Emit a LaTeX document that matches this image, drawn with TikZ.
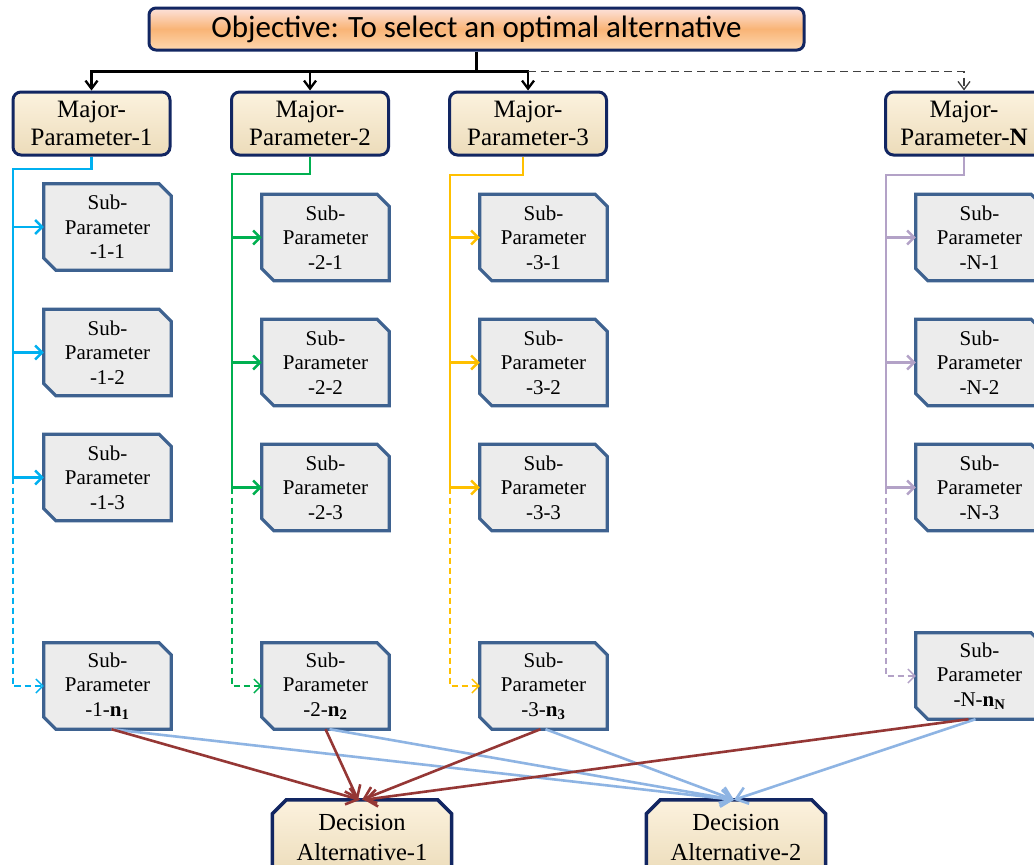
\documentclass[tikz,border=0pt]{standalone}
\usepackage{fontspec}
\setmainfont{Liberation Serif}
\newfontfamily\calib{Carlito}
\usetikzlibrary{arrows.meta,backgrounds}
\definecolor{navy}{RGB}{18,38,98}
\definecolor{subb}{RGB}{62,98,144}
\definecolor{subfill}{RGB}{236,236,236}
\definecolor{majtop}{RGB}{252,242,222}
\definecolor{majbot}{RGB}{236,220,186}
\definecolor{objtop}{RGB}{253,226,220}
\definecolor{objmid}{RGB}{249,180,118}
\definecolor{objbot}{RGB}{253,216,176}
\definecolor{cyl}{RGB}{0,176,240}
\definecolor{grl}{RGB}{0,176,80}
\definecolor{yel}{RGB}{255,192,0}
\definecolor{lav}{RGB}{179,162,199}
\definecolor{redl}{RGB}{149,55,53}
\definecolor{bluel}{RGB}{142,180,227}
\tikzset{
  objbox/.style={draw=navy, line width=3pt, rounded corners=7pt, top color=objtop, bottom color=objbot, middle color=objmid,
    minimum width=655pt, minimum height=42pt, inner sep=0pt, font=\calib\fontsize{31}{36}\selectfont},
  major/.style={draw=navy, line width=3pt, rounded corners=8pt, top color=majtop, bottom color=majbot,
    minimum width=157pt, minimum height=63pt, inner sep=0pt, align=center, font=\fontsize{25}{28.5}\selectfont},
  sub/.style={minimum width=127pt, minimum height=86pt, inner sep=0pt, align=center, font=\fontsize{21}{24.5}\selectfont},
  subshape/.style={draw=subb, line width=3.2pt, fill=subfill},
  dec/.style={minimum width=179pt, minimum height=75pt, inner sep=0pt, align=center, font=\fontsize{24.5}{29.5}\selectfont},
  decshape/.style={draw=navy, line width=3.5pt, top color=majtop, bottom color=majbot},
  blk/.style={line width=2.3pt, black, -{Straight Barb[length=8pt,width=12pt]}},
  blkd/.style={line width=1.3pt, black!75, dash pattern=on 8pt off 5pt, -{Straight Barb[length=8pt,width=12pt]}},
  conn/.style={line width=2.4pt},
  tip/.style={-{Straight Barb[length=7pt,width=14pt]}},
  dsh/.style={line width=1.4pt, dash pattern=on 6pt off 4pt, -{Straight Barb[length=7pt,width=14pt]}},
  bot/.style={line width=2.6pt, -{Straight Barb[length=11pt,width=17pt]}}
}
\begin{document}
\begin{tikzpicture}[x=1pt,y=-1pt]
\useasboundingbox (0,0) rectangle (1034,865);
% objective and majors
\node[objbox] (obj) at (476.5,29) {Objective: To select an optimal alternative};
\node[major] (m1) at (91.5,123.5) {Major-\\Parameter-1};
\node[major] (m2) at (310,123.5) {Major-\\Parameter-2};
\node[major] (m3) at (528,123.5) {Major-\\Parameter-3};
\node[major] (mN) at (964,123.5) {Major-\\Parameter-\textbf{N}};
% sub parameters
\node[sub] (s11) at (107.5,227) {Sub-\\Parameter\\-1-1};
\node[sub] (s12) at (107.5,352.5) {Sub-\\Parameter\\-1-2};
\node[sub] (s13) at (107.5,477.5) {Sub-\\Parameter\\-1-3};
\node[sub] (s1n) at (107.5,686) {Sub-\\Parameter\\-1-\textbf{n}\textsubscript{\textbf{1}}};
\node[sub] (s21) at (325.5,237.5) {Sub-\\Parameter\\-2-1};
\node[sub] (s22) at (325.5,362.5) {Sub-\\Parameter\\-2-2};
\node[sub] (s23) at (325.5,487.5) {Sub-\\Parameter\\-2-3};
\node[sub] (s2n) at (325.5,686) {Sub-\\Parameter\\-2-\textbf{n}\textsubscript{\textbf{2}}};
\node[sub] (s31) at (543.5,237.5) {Sub-\\Parameter\\-3-1};
\node[sub] (s32) at (543.5,362.5) {Sub-\\Parameter\\-3-2};
\node[sub] (s33) at (543.5,487.5) {Sub-\\Parameter\\-3-3};
\node[sub] (s3n) at (543.5,686) {Sub-\\Parameter\\-3-\textbf{n}\textsubscript{\textbf{3}}};
\node[sub] (sN1) at (979.5,237.5) {Sub-\\Parameter\\-N-1};
\node[sub] (sN2) at (979.5,362.5) {Sub-\\Parameter\\-N-2};
\node[sub] (sN3) at (979.5,487.5) {Sub-\\Parameter\\-N-3};
\node[sub] (sNn) at (979.5,676) {Sub-\\Parameter\\-N-\textbf{n}\textsubscript{\textbf{N}}};
% decisions
\node[dec] (d1) at (362,837.5) {Decision\\Alternative-1};
\node[dec] (d2) at (736,837.5) {Decision\\Alternative-2};
% shapes on background
\begin{pgfonlayer}{background}
\fill[white] (0,0) rectangle (1034,865);
\foreach \n in {s11,s12,s13,s1n,s21,s22,s23,s2n,s31,s32,s33,s3n,sN1,sN2,sN3,sNn}{
  \path[subshape] (\n.north west) -- ([xshift=-12pt]\n.north east) -- ([yshift=-12pt]\n.north east)
    -- (\n.south east) -- ([xshift=12pt]\n.south west) -- ([yshift=12pt]\n.south west) -- cycle;
}
\foreach \n in {d1,d2}{
  \path[decshape] (\n.south west) -- ([yshift=-14pt]\n.north west) -- ([xshift=14pt]\n.north west)
    -- ([xshift=-14pt]\n.north east) -- ([yshift=-14pt]\n.north east) -- (\n.south east) -- cycle;
}
\end{pgfonlayer}
% top connectors
\draw[line width=2.3pt] (obj.south) -- ++(0,20) coordinate (hj);
\draw[blk] (hj) -| (m1.north);
\draw[blk] (hj) -| (m2.north);
\draw[blk] (hj) -| (m3.north);
\draw[blkd] (hj -| m3.north) -| (mN.north);
% bus coordinates
\coordinate (b1) at (13,169);
\coordinate (b2) at (232,174);
\coordinate (b3) at (450,175);
\coordinate (bN) at (886,175);
% column 1
\draw[conn,cyl] (m1.south) |- (b1) -- (b1 |- s13);
\foreach \s in {s11,s12,s13} \draw[conn,cyl,tip] (b1 |- \s) -- (\s.west);
\draw[dsh,cyl] (b1 |- s13) |- (s1n.west);
% column 2
\draw[conn,grl] (m2.south) |- (b2) -- (b2 |- s23);
\foreach \s in {s21,s22,s23} \draw[conn,grl,tip] (b2 |- \s) -- (\s.west);
\draw[dsh,grl] (b2 |- s23) |- (s2n.west);
% column 3
\draw[conn,yel] ([xshift=-5pt]m3.south) |- (b3) -- (b3 |- s33);
\foreach \s in {s31,s32,s33} \draw[conn,yel,tip] (b3 |- \s) -- (\s.west);
\draw[dsh,yel] (b3 |- s33) |- (s3n.west);
% column N
\draw[conn,lav] (mN.south) |- (bN) -- (bN |- sN3);
\foreach \s in {sN1,sN2,sN3} \draw[conn,lav,tip] (bN |- \s) -- (\s.west);
\draw[dsh,lav] (bN |- sN3) |- (sNn.west);
% bottom connectors
\draw[bot,bluel] ([xshift=4pt]s1n.south) -- ([xshift=-2pt]d2.north);
\draw[bot,bluel] ([xshift=4pt]s2n.south) -- ([xshift=-2pt]d2.north);
\draw[bot,bluel] ([xshift=2pt]s3n.south) -- ([xshift=-2pt]d2.north);
\draw[bot,bluel] ([xshift=-4pt]sNn.south) -- ([xshift=-2pt]d2.north);
\draw[bot,redl] ([xshift=4pt]s1n.south) -- ([xshift=-2pt]d1.north);
\draw[bot,redl] (s2n.south) -- ([xshift=-4pt]d1.north);
\draw[bot,redl] ([xshift=-3pt]s3n.south) -- (d1.north);
\draw[bot,redl] ([xshift=-11pt]sNn.south) -- ([xshift=2pt]d1.north);
\end{tikzpicture}
\end{document}
